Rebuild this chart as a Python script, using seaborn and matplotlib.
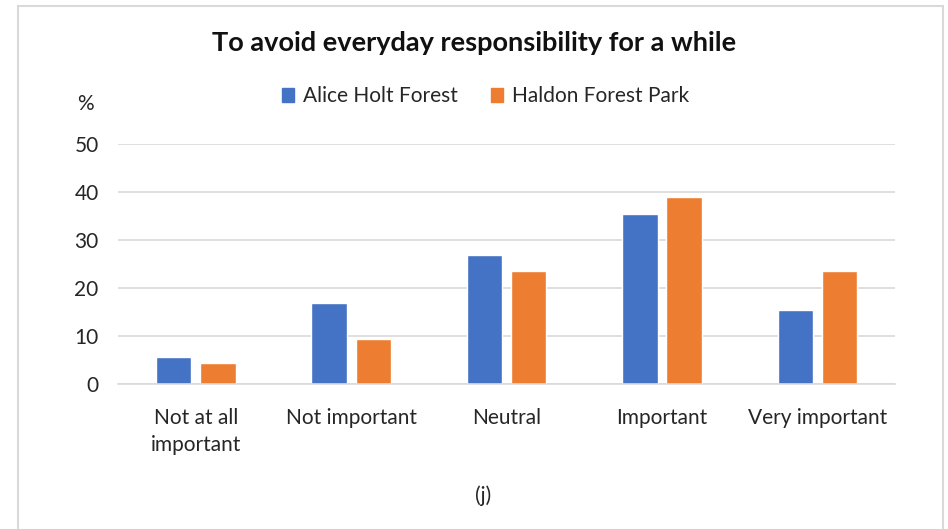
import pandas as pd
import matplotlib
matplotlib.use('Agg')
import matplotlib.pyplot as plt
import seaborn as sns
from matplotlib.patches import Rectangle

categories = ['Not at all\nimportant', 'Not important', 'Neutral', 'Important', 'Very important']
sites = ['Alice Holt Forest', 'Haldon Forest Park']
alice_holt = [5.6, 16.9, 26.9, 35.3, 15.4]
haldon = [4.4, 9.4, 23.5, 38.9, 23.5]
colors = ['#4472C4', '#ED7D31']

df = pd.DataFrame({
    'category': categories * 2,
    'site': [sites[0]] * 5 + [sites[1]] * 5,
    'value': alice_holt + haldon,
})

sns.set_theme(style='white')
plt.rcParams['font.family'] = ['Lato', 'DejaVu Sans']

fig = plt.figure(figsize=(9.48, 5.29), dpi=100)
ax = fig.add_axes([0.1245, 0.274, 0.8197, 0.454])

sns.barplot(data=df, x='category', y='value', hue='site', palette=colors,
            order=categories, hue_order=sites, width=0.57, gap=0.2,
            saturation=1, legend=False, ax=ax)

ax.set_xlim(-0.5, 4.5)
ax.set_ylim(0, 50)
ax.set_yticks(range(0, 51, 10))
ax.yaxis.grid(True, color='#d9d9d9', linewidth=1.2)
ax.set_axisbelow(True)
for s in ['top', 'right', 'left']:
    ax.spines[s].set_visible(False)
ax.spines['bottom'].set_color('#d9d9d9')
ax.spines['bottom'].set_linewidth(1.2)
ax.tick_params(axis='both', length=0, labelsize=15, colors='#262626')
ax.tick_params(axis='x', pad=17)
ax.tick_params(axis='y', pad=14)
for lbl in ax.get_xticklabels():
    lbl.set_linespacing(1.45)
ax.set_xlabel('')
ax.set_ylabel('')

fig.text(0.5, 0.918, 'To avoid everyday responsibility for a while',
         ha='center', va='center', fontsize=19.5, fontweight='bold', color='#111111')
fig.text(0.09, 0.803, '%', ha='center', va='center', fontsize=15, color='#262626')
fig.text(0.51, 0.063, '(j)', ha='center', va='center', fontsize=15, color='#262626')

handles = [Rectangle((0, 0), 1, 1, color=c) for c in colors]
fig.legend(handles, sites, loc='center', bbox_to_anchor=(0.512, 0.818), ncol=2,
           frameon=False, fontsize=15, handlelength=0.6, handleheight=0.6,
           handletextpad=0.4, columnspacing=1.6, labelcolor='#262626')

fig.patches.append(Rectangle((18 / 948, -0.05), (943 - 18) / 948, 1.05 - 6 / 529,
                             transform=fig.transFigure, fill=False,
                             edgecolor='#d9d9d9', linewidth=1.5))

fig.savefig('out.png', dpi=100)
